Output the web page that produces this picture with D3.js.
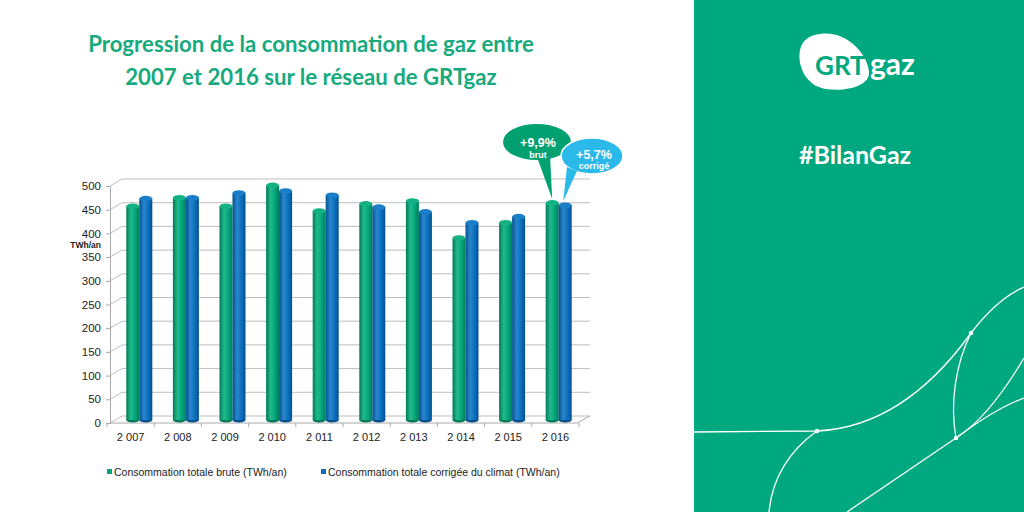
<!DOCTYPE html>
<html>
<head>
<meta charset="utf-8">
<script src="https://cdn.jsdelivr.net/npm/d3@7"></script>
<style>
  body { margin: 0; padding: 0; background: #fff; }
  svg { display: block; }
</style>
</head>
<body>
<div id="chart"></div>
<script>
"use strict"

// data
let years = ["2 007", "2 008", "2 009", "2 010", "2 011", "2 012", "2 013", "2 014", "2 015", "2 016"]
let brute = [451, 469, 451, 495, 441, 456, 462, 384, 416, 458]
let corrigee = [467, 469, 479, 483, 474, 449, 439, 416, 429, 453]
let yTicks = [0, 50, 100, 150, 200, 250, 300, 350, 400, 450, 500]
let seriesNames = ["Consommation totale brute (TWh/an)", "Consommation totale corrigée du climat (TWh/an)"]
let callouts = [
    { value: "+9,9%", label: "brut" },
    { value: "+5,7%", label: "corrigé" }
]

let width = 1024, height = 512
let panelGreen = "#00a87f"
let barGreen = "#00a67a"
let barBlue = "#0a6fbd"

let svg = d3.select("#chart").append("svg")
    .attr("width", width)
    .attr("height", height)

let defs = svg.append("defs")

function cylGradient(id, dark, mid, light){
    let g = defs.append("linearGradient").attr("id", id)
        .attr("x1", "0%").attr("x2", "100%").attr("y1", "0%").attr("y2", "0%")
    g.append("stop").attr("offset", "0%").attr("stop-color", dark)
    g.append("stop").attr("offset", "35%").attr("stop-color", light)
    g.append("stop").attr("offset", "70%").attr("stop-color", mid)
    g.append("stop").attr("offset", "100%").attr("stop-color", dark)
}
cylGradient("gradGreen", "#007a58", barGreen, "#22b98c")
cylGradient("gradBlue", "#04508f", barBlue, "#2a86cc")

// ---------- right panel ----------
let panel = svg.append("g")
panel.append("rect")
    .attr("x", 694).attr("y", 0)
    .attr("width", 330).attr("height", 512)
    .attr("fill", panelGreen)

// logo
panel.append("path")
    .attr("d", "M820 34 C846 30 868 54 869 72 C870 86 846 92 826 89 C806 86 797 66 800 50 C802 40 810 35 820 34 Z")
    .attr("fill", "#fff")
panel.append("text")
    .attr("x", 815).attr("y", 75)
    .style("font-family", "Lato").style("font-weight", "bold")
    .style("font-size", "26px")
    .attr("fill", panelGreen)
    .text("GRT")
panel.append("text")
    .attr("x", 870).attr("y", 75)
    .style("font-family", "Lato").style("font-weight", "bold")
    .style("font-size", "30px")
    .attr("fill", "#fff")
    .text("gaz")

panel.append("text")
    .attr("x", 855).attr("y", 164)
    .attr("text-anchor", "middle")
    .style("font-family", "Lato").style("font-weight", "bold")
    .style("font-size", "25px")
    .attr("fill", "#fff")
    .text("#BilanGaz")

// network lines
let lines = panel.append("g").attr("fill", "none").attr("stroke", "#fff").attr("stroke-width", 1.3)
lines.append("path").attr("d", "M694 432 L817 431 C880 428 930 390 971 333 C990 308 1008 294 1024 287")
lines.append("path").attr("d", "M769 512 C772 478 790 450 817 431")
lines.append("path").attr("d", "M971 333 C955 365 950 405 956 438")
lines.append("path").attr("d", "M847 512 L956 438 C980 420 1005 405 1024 398")
lines.append("path").attr("d", "M956 438 C985 420 1008 385 1024 358")
;[[817, 431], [971, 333], [956, 438]].forEach(function(p){
    lines.append("circle").attr("cx", p[0]).attr("cy", p[1]).attr("r", 1.6).attr("fill", "#fff")
})

// ---------- title ----------
let titleColor = "#16aa7e"
let title = svg.append("text")
    .attr("text-anchor", "middle")
    .style("font-family", "Lato").style("font-weight", "bold")
    .style("font-size", "22.2px")
    .attr("fill", titleColor)
title.append("tspan").attr("x", 311).attr("y", 52).text("Progression de la consommation de gaz entre")
title.append("tspan").attr("x", 311).attr("y", 85).text("2007 et 2016 sur le réseau de GRTgaz")

// ---------- chart ----------
let depthX = 12, depthY = -7     // back wall offset from front plane
let yBack = d3.scaleLinear().domain([0, 500]).range([416, 179])
let xLabel = d3.scaleBand().domain(years).range([107, 579]).padding(0)
let xBar = d3.scaleBand().domain(years).range([116, 582]).padding(0)
let barW = 13

let chart = svg.append("g")
let grid = chart.append("g").attr("stroke", "#bdbdbd").attr("stroke-width", 1).attr("fill", "none")

yTicks.forEach(function(t){
    let yb = yBack(t)
    grid.append("line")
        .attr("x1", 122).attr("x2", 590)
        .attr("y1", yb).attr("y2", yb)
    grid.append("line")
        .attr("x1", 110).attr("x2", 122)
        .attr("y1", yb - depthY).attr("y2", yb)
})
// floor front edge + right depth
grid.append("line").attr("x1", 110).attr("x2", 577)
    .attr("y1", yBack(0) - depthY).attr("y2", yBack(0) - depthY).attr("stroke", "#aaa")
grid.append("line").attr("x1", 577).attr("x2", 590)
    .attr("y1", yBack(0) - depthY).attr("y2", yBack(0)).attr("stroke", "#aaa")

// front y axis
let yFront = d3.scaleLinear().domain([0, 500]).range([416 - depthY, 179 - depthY])
let yAxis = d3.axisLeft(yFront).tickValues(yTicks).tickSize(4).tickPadding(5)
let yg = chart.append("g").attr("transform", "translate(110,0)").call(yAxis)
yg.select(".domain").attr("stroke", "#aaa")
yg.selectAll(".tick line").attr("stroke", "#aaa")
yg.selectAll("text")
    .style("font-family", "Liberation Sans, Arial, sans-serif")
    .style("font-size", "11.5px")
    .attr("fill", "#222")

chart.append("text")
    .attr("x", 101).attr("y", 248)
    .attr("text-anchor", "end")
    .style("font-family", "Liberation Sans, Arial, sans-serif")
    .style("font-weight", "bold")
    .style("font-size", "8.5px")
    .attr("fill", "#222")
    .text("TWh/an")

// x axis labels and ticks
let xAxis = d3.axisBottom(xLabel).tickSize(0).tickPadding(10)
let xg = chart.append("g").attr("transform", "translate(0," + (yBack(0) - depthY) + ")").call(xAxis)
xg.select(".domain").remove()
xg.selectAll("text")
    .style("font-family", "Liberation Sans, Arial, sans-serif")
    .style("font-size", "11px")
    .attr("fill", "#222")
years.forEach(function(d){
    let xx = xLabel(d)
    xg.append("line").attr("x1", xx).attr("x2", xx).attr("y1", 0).attr("y2", 4).attr("stroke", "#aaa")
})
xg.append("line").attr("x1", 579).attr("x2", 579).attr("y1", 0).attr("y2", 4).attr("stroke", "#aaa")

// cylinders
let barBase = yBack(0) + 4
function barTop(v){ return yBack(v) + 4 }

function drawCylinder(g, x, v, grad, topColor, edge){
    let top = barTop(v)
    g.append("ellipse")
        .attr("cx", x + barW / 2).attr("cy", barBase)
        .attr("rx", barW / 2).attr("ry", 2.5)
        .attr("fill", edge)
    g.append("rect")
        .attr("x", x).attr("y", top)
        .attr("width", barW).attr("height", barBase - top)
        .attr("fill", "url(#" + grad + ")")
    g.append("ellipse")
        .attr("cx", x + barW / 2).attr("cy", top)
        .attr("rx", barW / 2).attr("ry", 2.8)
        .attr("fill", topColor)
}

let bars = chart.append("g")
years.forEach(function(d, i){
    let c = xBar(d) + xBar.bandwidth() / 2
    drawCylinder(bars, c - barW, brute[i], "gradGreen", "#14b184", "#007a58")
    drawCylinder(bars, c, corrigee[i], "gradBlue", "#1a7fc8", "#04508f")
})

// ---------- legend ----------
let legend = chart.append("g")
    .style("font-family", "Liberation Sans, Arial, sans-serif")
    .style("font-size", "10.5px")
let legendX = [107, 321]
seriesNames.forEach(function(name, i){
    legend.append("rect")
        .attr("x", legendX[i]).attr("y", 469)
        .attr("width", 5).attr("height", 5)
        .attr("fill", i == 0 ? barGreen : barBlue)
    legend.append("text")
        .attr("x", legendX[i] + 7).attr("y", 476)
        .attr("fill", "#222")
        .text(name)
})

// ---------- callouts ----------
let last = years.length - 1
let cLast = xBar(years[last]) + xBar.bandwidth() / 2
let tipGreen = [cLast - barW / 2, barTop(brute[last]) - 4]
let tipBlue = [cLast + barW / 2 - 2, barTop(corrigee[last]) - 4]

let co = chart.append("g")
// green bubble
co.append("path")
    .attr("d", "M537 157 L" + tipGreen[0] + " " + tipGreen[1] + " L550 155 Z")
    .attr("fill", "#00a070")
co.append("ellipse")
    .attr("cx", 537).attr("cy", 142).attr("rx", 34).attr("ry", 18)
    .attr("fill", "#00a070")
// blue bubble
co.append("ellipse")
    .attr("cx", 592).attr("cy", 156).attr("rx", 31).attr("ry", 18)
    .attr("fill", "#2bb9ea").attr("stroke", "#fff").attr("stroke-width", 1.5)
co.append("path")
    .attr("d", "M567 167 L" + tipBlue[0] + " " + tipBlue[1] + " L577 171 Z")
    .attr("fill", "#2bb9ea")

let bubbles = [[538, 147, 158], [594, 159, 169]]
callouts.forEach(function(c, i){
    co.append("text")
        .attr("x", bubbles[i][0]).attr("y", bubbles[i][1])
        .attr("text-anchor", "middle")
        .style("font-family", "Liberation Sans, Arial, sans-serif")
        .style("font-weight", "bold").style("font-size", "12.5px")
        .attr("fill", "#fff")
        .text(c.value)
    co.append("text")
        .attr("x", bubbles[i][0]).attr("y", bubbles[i][2])
        .attr("text-anchor", "middle")
        .style("font-family", "Liberation Sans, Arial, sans-serif")
        .style("font-weight", "bold").style("font-size", "9px")
        .attr("fill", "#fff")
        .text(c.label)
})
</script>
</body>
</html>
